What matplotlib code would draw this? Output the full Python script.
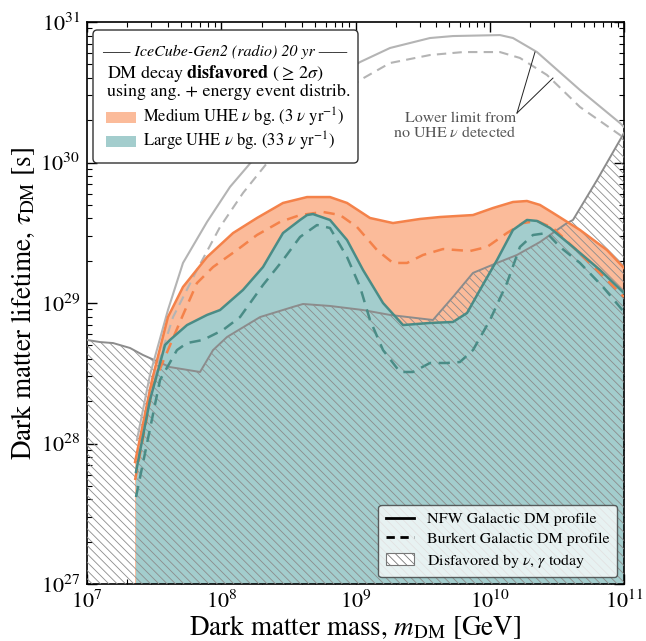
import numpy as np
import matplotlib
matplotlib.use("Agg")
import matplotlib.pyplot as plt
from matplotlib.patches import Patch, FancyBboxPatch, Rectangle
from matplotlib.lines import Line2D

plt.rcParams['font.family'] = ['STIXGeneral', 'DejaVu Serif']
plt.rcParams['mathtext.fontset'] = 'stix'
plt.rcParams['hatch.linewidth'] = 0.6

# ---------------- data (log10 values) ----------------
# IceCube-Gen2 lower limit, no UHE nu detected (NFW, solid)
lim_nfw_m = [7.372, 7.469, 7.603, 7.715, 7.894, 8.065, 8.192, 8.363, 8.587, 8.810,
             9.034, 9.257, 9.555, 9.726, 10.076, 10.173, 10.352, 10.672, 10.970, 11.0]
lim_nfw_t = [28.025, 28.488, 28.950, 29.285, 29.577, 29.826, 29.968, 30.160, 30.395, 30.587,
             30.715, 30.815, 30.886, 30.900, 30.907, 30.886, 30.786, 30.516, 30.281, 30.253]
# Lower limit (Burkert, dashed)
lim_bur_m = [7.380, 7.469, 7.641, 7.819, 7.991, 8.162, 8.341, 8.587, 8.810, 9.034,
             9.257, 9.555, 9.801, 10.076, 10.225, 10.426, 10.672, 10.970, 11.0]
lim_bur_t = [27.918, 28.381, 28.900, 29.235, 29.541, 29.783, 29.996, 30.267, 30.445, 30.587,
             30.708, 30.765, 30.786, 30.786, 30.744, 30.623, 30.395, 30.196, 30.174]

# Medium UHE nu background (3 nu/yr)
med_nfw_m = [7.358, 7.484, 7.603, 7.715, 7.894, 8.088, 8.266, 8.460, 8.639, 8.810, 8.937,
             9.108, 9.279, 9.480, 9.629, 9.875, 10.024, 10.173, 10.277, 10.374, 10.471,
             10.672, 10.873, 11.0]
med_nfw_t = [27.868, 28.452, 28.900, 29.114, 29.327, 29.498, 29.605, 29.712, 29.754, 29.754,
             29.712, 29.605, 29.569, 29.598, 29.612, 29.626, 29.676, 29.719, 29.726, 29.698,
             29.641, 29.520, 29.377, 29.249]
med_bur_m = [7.358, 7.492, 7.708, 7.819, 7.939, 8.117, 8.266, 8.438, 8.587, 8.758, 8.885,
             9.011, 9.160, 9.279, 9.384, 9.503, 9.652, 9.853, 9.980, 10.128, 10.248, 10.352,
             10.471, 10.620, 10.799, 11.0]
med_bur_t = [27.740, 28.416, 28.900, 29.142, 29.256, 29.377, 29.484, 29.577, 29.626, 29.648,
             29.626, 29.541, 29.377, 29.285, 29.285, 29.342, 29.384, 29.370, 29.399, 29.498,
             29.569, 29.584, 29.534, 29.399, 29.235, 29.043]

# Large UHE nu background (33 nu/yr)
lrg_nfw_m = [7.365, 7.469, 7.581, 7.618, 7.745, 7.894, 7.991, 8.162, 8.311, 8.460, 8.587,
             8.639, 8.683, 8.810, 8.937, 9.056, 9.205, 9.354, 9.555, 9.726, 9.831, 9.927,
             10.054, 10.173, 10.277, 10.352, 10.449, 10.620, 10.821, 11.0]
lrg_nfw_t = [27.797, 28.310, 28.701, 28.737, 28.843, 28.915, 28.950, 29.093, 29.256, 29.498,
             29.591, 29.626, 29.633, 29.591, 29.448, 29.235, 29.000, 28.843, 28.858, 28.865,
             28.929, 29.093, 29.306, 29.520, 29.591, 29.584, 29.534, 29.399, 29.235, 29.071]
lrg_bur_m = [7.365, 7.544, 7.670, 7.745, 7.864, 8.013, 8.140, 8.311, 8.460, 8.587, 8.713,
             8.810, 8.937, 9.034, 9.108, 9.205, 9.331, 9.428, 9.555, 9.682, 9.778, 9.875,
             10.002, 10.128, 10.225, 10.322, 10.426, 10.523, 10.672, 10.844, 11.0]
lrg_bur_t = [27.619, 28.452, 28.665, 28.715, 28.737, 28.808, 28.900, 29.128, 29.306, 29.470,
             29.555, 29.534, 29.327, 29.114, 28.879, 28.665, 28.509, 28.509, 28.573, 28.573,
             28.580, 28.665, 28.879, 29.142, 29.399, 29.484, 29.498, 29.399, 29.285, 29.114,
             28.936]

# Disfavored by nu, gamma today
dis_m = [7.0, 7.097, 7.194, 7.320, 7.417, 7.618, 7.842, 7.939, 8.043, 8.289, 8.534, 8.609,
         8.810, 9.056, 9.257, 9.577, 9.726, 9.875, 10.054, 10.203, 10.374, 10.575, 10.620,
         10.799, 11.0]
dis_t = [28.737, 28.722, 28.715, 28.680, 28.630, 28.544, 28.509, 28.665, 28.758, 28.900,
         28.972, 28.993, 28.979, 28.950, 28.915, 28.879, 29.043, 29.214, 29.285, 29.342,
         29.434, 29.569, 29.591, 29.875, 30.210]


def P(a):
    return 10.0 ** np.asarray(a)


# ---------------- style ----------------
c_or_fill = '#FBBB9A'
c_or_line = '#F4824A'
c_tl_fill = '#A3CDCD'
c_tl_line = '#4A8C86'
c_lim = '#B4B4B4'
c_dis = '#8C8C8C'
c_hatch = '#8C8C8C'
plt.rcParams['hatch.color'] = c_hatch

fig = plt.figure(figsize=(6.46, 6.41), dpi=100)
ax = fig.add_axes([87 / 646, 1 - 584 / 641, 537 / 646, 562 / 641])
ax.set_xscale('log')
ax.set_yscale('log')
ax.set_xlim(1e7, 1e11)
ax.set_ylim(1e27, 1e31)

bottom = 1e26
ax.fill_between(P(med_nfw_m), bottom, P(med_nfw_t), facecolor=c_or_fill, linewidth=0, zorder=1)
ax.fill_between(P(lrg_nfw_m), bottom, P(lrg_nfw_t), facecolor=c_tl_fill, linewidth=0, zorder=2)
ax.fill_between(P(dis_m), bottom, P(dis_t), facecolor='none', edgecolor=c_hatch,
                hatch='\\\\\\\\', linewidth=0, zorder=3)
ax.plot(P(dis_m), P(dis_t), color=c_dis, lw=1.4, zorder=4)

dash = (0, (4.5, 3))
ax.plot(P(lim_nfw_m), P(lim_nfw_t), color=c_lim, lw=1.5, zorder=4)
ax.plot(P(lim_bur_m), P(lim_bur_t), color=c_lim, lw=1.5, ls=dash, zorder=4)
ax.plot(P(med_nfw_m), P(med_nfw_t), color=c_or_line, lw=1.8, zorder=5)
ax.plot(P(med_bur_m), P(med_bur_t), color=c_or_line, lw=1.8, ls=dash, zorder=5)
ax.plot(P(lrg_nfw_m), P(lrg_nfw_t), color=c_tl_line, lw=1.8, zorder=6)
ax.plot(P(lrg_bur_m), P(lrg_bur_t), color=c_tl_line, lw=1.8, ls=dash, zorder=6)

# annotation
ax.text(10 ** 10.196, 10 ** 30.260, 'Lower limit from\nno UHE $\\nu$ detected', ha='right',
        va='center', multialignment='right', fontsize=11.5, color='#555555', zorder=7,
        linespacing=1.0)
ax.plot([10 ** 10.203, 10 ** 10.337], [10 ** 30.352, 10 ** 30.786], color='#222222', lw=0.7, zorder=7)
ax.plot([10 ** 10.203, 10 ** 10.471], [10 ** 30.352, 10 ** 30.601], color='#222222', lw=0.7, zorder=7)

# ticks
ax.tick_params(which='both', direction='in', top=True, right=True, labelsize=16, pad=5)
ax.tick_params(which='major', length=7, width=1.0)
ax.tick_params(which='minor', length=3.5, width=0.8)
for s in ax.spines.values():
    s.set_linewidth(1.2)

ax.set_xlabel('Dark matter mass, $m_{\\rm DM}$ [GeV]', fontsize=19.5, labelpad=0)
ax.set_ylabel('Dark matter lifetime, $\\tau_{\\rm DM}$ [s]', fontsize=19.5, labelpad=2)

# top-left legend box (manual)
def fx(px):
    return (px - 87) / 537


def fy(py):
    return (584 - py) / 562


box = FancyBboxPatch((fx(93), fy(163)), fx(358) - fx(93), fy(30) - fy(163),
                     boxstyle='round,pad=0,rounding_size=0.008', transform=ax.transAxes,
                     facecolor='white', edgecolor='#333333', lw=1.0, zorder=10)
ax.add_patch(box)
ax.text(fx(225), fy(52), '—— IceCube-Gen2 (radio) 20 yr ——', transform=ax.transAxes,
        ha='center', va='center', fontsize=11.5, style='italic', zorder=11)
ax.text(fx(107), fy(73), 'DM decay $\\mathbf{disfavored}$ ($\\geq\\,2\\sigma$)', transform=ax.transAxes,
        ha='left', va='center', fontsize=13, zorder=11)
ax.text(fx(107), fy(92), 'using ang. + energy event distrib.', transform=ax.transAxes,
        ha='left', va='center', fontsize=13, zorder=11)
for py, col, lab in [(117, c_or_fill, 'Medium UHE $\\nu$ bg. (3 $\\nu$ yr$^{-1}$)'),
                     (141, c_tl_fill, 'Large UHE $\\nu$ bg. (33 $\\nu$ yr$^{-1}$)')]:
    ax.add_patch(Rectangle((fx(106), fy(py + 5.5)), fx(136) - fx(106), fy(py - 5.5) - fy(py + 5.5),
                           transform=ax.transAxes, facecolor=col, edgecolor='none', zorder=11))
    ax.text(fx(143), fy(py), lab, transform=ax.transAxes, ha='left', va='center',
            fontsize=12, zorder=11)

# bottom-right legend
handles = [Line2D([], [], color='black', lw=2),
           Line2D([], [], color='black', lw=2, ls=(0, (3, 2))),
           Patch(facecolor='white', edgecolor='#777777', hatch='\\\\\\\\', lw=0.8)]
labels = ['NFW Galactic DM profile', 'Burkert Galactic DM profile', 'Disfavored by $\\nu$, $\\gamma$ today']
leg = ax.legend(handles, labels, loc='lower right', fontsize=11.5, frameon=True, fancybox=True,
                framealpha=0.75, edgecolor='#333333', borderaxespad=0.45, handlelength=1.8,
                handletextpad=0.8, labelspacing=0.35, borderpad=0.45)
leg.get_frame().set_linewidth(1.0)
leg.set_zorder(12)

fig.savefig('out.png', dpi=100)
